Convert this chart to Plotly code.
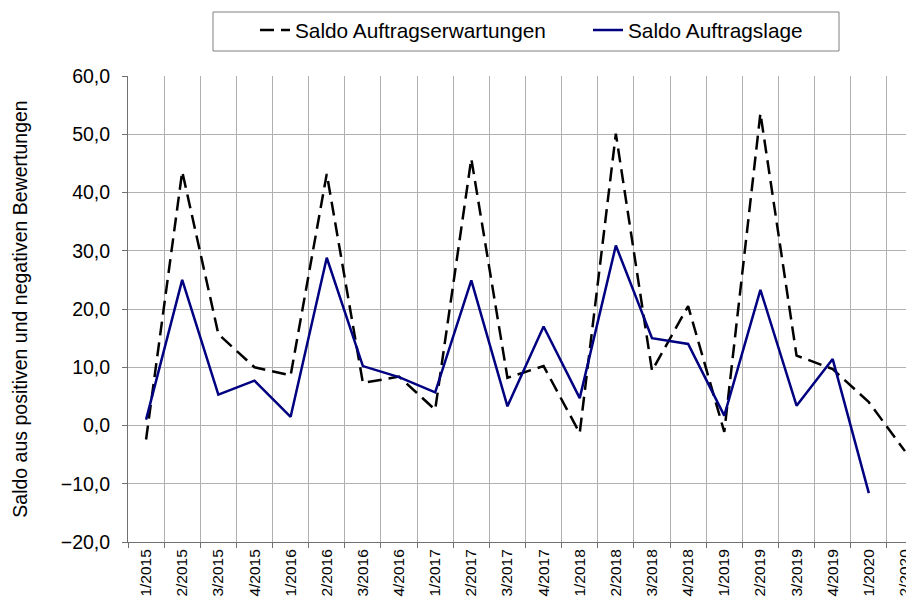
import plotly.graph_objects as go

categories = ["1/2015", "2/2015", "3/2015", "4/2015",
              "1/2016", "2/2016", "3/2016", "4/2016",
              "1/2017", "2/2017", "3/2017", "4/2017",
              "1/2018", "2/2018", "3/2018", "4/2018",
              "1/2019", "2/2019", "3/2019", "4/2019",
              "1/2020", "2/2020"]
auftragserwartungen = [-2.4, 43.6, 15.7, 10.0, 8.6, 43.2, 7.3, 8.4, 2.7, 45.8, 8.2,
                       10.2, -1.3, 50.1, 9.4, 20.5, -1.1, 53.6, 12.0, 9.7, 4.0, -4.4]
auftragslage = [1.0, 25.0, 5.3, 7.7, 1.5, 28.8, 10.2, 8.3, 5.7, 24.9, 3.3,
                17.0, 4.7, 30.9, 15.0, 14.0, 1.7, 23.3, 3.4, 11.4, -11.6, None]
y_ticks = [-20, -10, 0, 10, 20, 30, 40, 50, 60]

FONT = "Liberation Sans, Arial, sans-serif"
# the page body has an 8px margin, so the figure starts at (8, 8) on screen
OFF = 8
W, H = 914 - OFF, 601 - OFF
ML, MR, MT, MB = 128 - OFF, 0, 76 - OFF, 59
PW, PH = W - ML - MR, H - MT - MB


def px_x(sx):
    return (sx - OFF - ML) / PW


def px_y(sy):
    return (H - MB - (sy - OFF)) / PH


fig = go.Figure()
fig.add_trace(go.Scatter(
    x=categories, y=auftragserwartungen, mode="lines",
    name="Saldo Auftragserwartungen",
    line=dict(color="#000000", width=2.5, dash="14px,7px"),
))
fig.add_trace(go.Scatter(
    x=categories, y=auftragslage, mode="lines",
    name="Saldo Auftragslage",
    line=dict(color="#000080", width=2.5),
))

# legend frame
fig.add_shape(type="rect", xref="paper", yref="paper",
              x0=px_x(213), x1=px_x(839), y0=px_y(51), y1=px_y(12),
              line=dict(color="#808080", width=1), fillcolor="rgba(0,0,0,0)",
              layer="above")

fig.update_layout(
    width=W, height=H,
    margin=dict(l=ML, r=MR, t=MT, b=MB, autoexpand=False),
    paper_bgcolor="white", plot_bgcolor="white",
    separators=",.",
    font=dict(family=FONT, size=19, color="#000000"),
    showlegend=True,
    legend=dict(
        orientation="h", x=px_x(255), y=px_y(10), xanchor="left", yanchor="top",
        borderwidth=0, bgcolor="rgba(0,0,0,0)",
        font=dict(family=FONT, size=20.8),
        entrywidth=288, entrywidthmode="pixels",
    ),
    xaxis=dict(
        type="category", tickson="boundaries",
        range=[-0.5, 21.25],
        showgrid=True, gridcolor="#b0b0b0", gridwidth=1,
        showline=True, linecolor="#707070", linewidth=1,
        ticks="outside", ticklen=5, tickcolor="#707070",
        tickangle=-90, tickfont=dict(family=FONT, size=15.5),
        ticklabeloverflow="allow",
        zeroline=False, automargin=False,
    ),
    yaxis=dict(
        range=[-20, 60], tickvals=y_ticks, tickformat=".1f",
        showgrid=True, gridcolor="#b0b0b0", gridwidth=1,
        showline=True, linecolor="#707070", linewidth=1,
        ticks="outside", ticklen=5, tickcolor="#707070",
        ticklabelstandoff=8,
        tickfont=dict(family=FONT, size=19.5),
        zeroline=False, automargin=False,
        title=dict(text="Saldo aus positiven und negativen Bewertungen",
                   font=dict(family=FONT, size=19.5), standoff=27),
    ),
)

fig.write_html("out.html")
